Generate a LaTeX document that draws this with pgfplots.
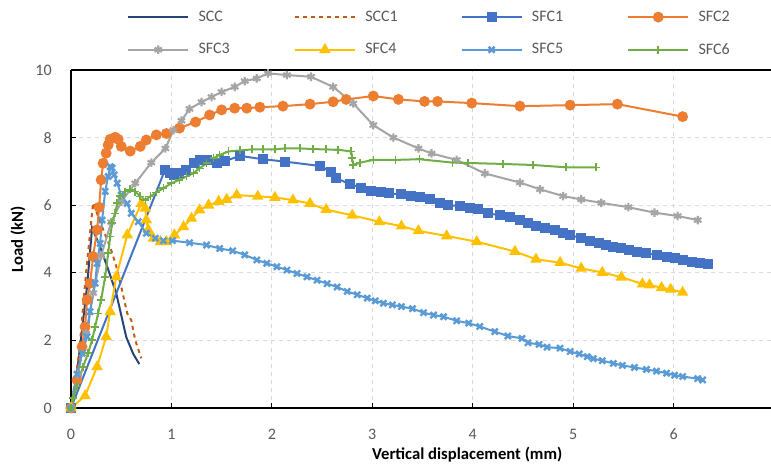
\documentclass[border=0pt]{standalone}
\usepackage{pgfplots}
\pgfplotsset{compat=1.18}
\usepackage{fontspec}
\setmainfont{Carlito}
\usetikzlibrary{calc}
\definecolor{cSCC}{HTML}{264478}
\definecolor{cSCC1}{HTML}{C55A11}
\definecolor{cSFC1}{HTML}{4472C4}
\definecolor{cSFC2}{HTML}{ED7D31}
\definecolor{cSFC3}{HTML}{A5A5A5}
\definecolor{cSFC4}{HTML}{FFC000}
\definecolor{cSFC5}{HTML}{5B9BD5}
\definecolor{cSFC6}{HTML}{70AD47}
\definecolor{tickgray}{HTML}{595959}
\definecolor{gridgray}{HTML}{D9D9D9}

\newcommand{\legtext}[1]{\makebox[74.5pt][l]{\hspace*{5pt}#1}}

\begin{document}
\begin{tikzpicture}
\begin{axis}[
    name=ax,
    scale only axis,
    width=525pt, height=253.5pt,
    xmin=0, xmax=6.97, ymin=0, ymax=10,
    xtick={0,1,...,6}, ytick={0,2,...,10},
    axis x line=box, axis y line*=left,
    xtick pos=bottom, ytick pos=left,
    tick align=inside, major tick length=3.5pt,
    tick style={black, line width=0.75pt},
    axis line style={black, line width=0.9pt},
    grid=major,
    major grid style={gridgray, dashed, line width=0.75pt},
    /pgf/number format/assume math mode=true,
    ticklabel style={font=\fontsize{12}{14}\selectfont, text=tickgray},
    xticklabel style={anchor=center, yshift=-19.5pt},
    yticklabel style={anchor=east, xshift=-11pt},
    xlabel={\textbf{Vertical displacement (mm)}},
    ylabel={\textbf{Load (kN)}},
    every axis x label/.style={at={(axis description cs:0.566,0)}, yshift=-35.25pt, anchor=center, font=\fontsize{12.5}{14}\selectfont},
    every axis y label/.style={at={(axis description cs:0,0.5)}, xshift=-39.75pt, rotate=90, anchor=center, font=\fontsize{12.5}{14}\selectfont},
    legend columns=4,
    legend style={at={(axis description cs:0.08,1)}, anchor=north west, yshift=46.5pt,
        draw=none, fill=none, font=\fontsize{12}{14}\selectfont, text=tickgray,
        row sep=11pt, inner sep=0pt},
    legend cell align=left,
    legend image code/.code={\draw[mark repeat=2, mark phase=2, #1] plot coordinates {(0pt,0pt) (22.5pt,0pt) (45pt,0pt)};},
    every axis plot/.append style={line width=1.5pt},
]

% SCC
\addplot[cSCC] coordinates {
(0,0) (0.06,1.04) (0.16,3.6) (0.21,5.33) (0.29,4.77) (0.37,4.1) (0.45,3.4) (0.55,2.1) (0.62,1.6) (0.68,1.3)
};
\addlegendentry{\legtext{SCC}}

% SCC1
\addplot[cSCC1, dashed] coordinates {
(0,0) (0.08,1.6) (0.15,4.0) (0.22,6.07) (0.27,5.67) (0.33,5.2) (0.39,4.77) (0.45,4.2) (0.50,3.59) (0.56,2.8) (0.60,2.6) (0.64,2.0) (0.70,1.47)
};
\addlegendentry{\legtext{SCC1}}

% SFC1
\addplot[cSFC1, mark=square*, mark size=3pt, mark options={solid, fill=cSFC1}] coordinates {
(0,0) (0.935,7.04) (0.985,6.94) (1.03,6.89) (1.08,6.94) (1.15,7.04) (1.22,7.24) (1.28,7.34) (1.35,7.34)
(1.45,7.26) (1.53,7.30) (1.68,7.46) (1.91,7.36) (2.13,7.29) (2.48,7.16) (2.59,6.99) (2.64,6.80)
(2.78,6.62) (2.89,6.52) (2.99,6.42) (3.09,6.38) (3.17,6.35) (3.29,6.32) (3.39,6.27) (3.47,6.23)
(3.57,6.17) (3.67,6.07) (3.75,6.00) (3.87,5.98) (3.97,5.92) (4.05,5.88) (4.15,5.76) (4.27,5.70)
(4.37,5.66) (4.47,5.56) (4.55,5.47) (4.63,5.39) (4.72,5.33) (4.82,5.27) (4.90,5.18) (4.97,5.12)
(5.08,5.02) (5.17,4.95) (5.26,4.87) (5.33,4.82) (5.40,4.77) (5.48,4.72) (5.56,4.67) (5.64,4.62)
(5.73,4.58) (5.83,4.53) (5.93,4.48) (6.01,4.43) (6.09,4.38) (6.18,4.33) (6.26,4.29) (6.34,4.25)
};
\addlegendentry{\legtext{SFC1}}

% SFC2
\addplot[cSFC2, mark=*, mark size=3.3pt, mark options={solid, fill=cSFC2}] coordinates {
(0,0) (0.06,0.83) (0.11,1.81) (0.14,2.4) (0.16,3.2) (0.19,3.69) (0.22,4.48) (0.26,5.27) (0.28,5.94)
(0.30,6.75) (0.32,7.24) (0.35,7.54) (0.37,7.78) (0.39,7.95) (0.44,8.01) (0.47,7.95) (0.50,7.74)
(0.59,7.60) (0.69,7.74) (0.75,7.93) (0.85,8.08) (0.95,8.12) (1.08,8.28) (1.24,8.46) (1.38,8.67)
(1.50,8.82) (1.63,8.87) (1.75,8.87) (1.88,8.90) (2.11,8.93) (2.38,8.99) (2.61,9.06) (2.74,9.13)
(3.01,9.23) (3.26,9.13) (3.52,9.07) (3.65,9.07) (3.99,9.02) (4.47,8.93) (4.97,8.96) (5.44,8.99) (6.09,8.62)
};
\addlegendentry{\legtext{SFC2}}

% SFC3
\addplot[cSFC3, mark=asterisk, mark size=3.2pt, mark options={solid, line width=1.6pt}] coordinates {
(0,0) (0.07,1.0) (0.15,2.2) (0.22,3.4) (0.30,4.5) (0.40,5.5) (0.50,6.1) (0.64,6.65) (0.80,7.26)
(0.94,7.68) (1.02,8.22) (1.10,8.50) (1.18,8.85) (1.30,9.05) (1.40,9.20) (1.50,9.35) (1.63,9.50)
(1.73,9.67) (1.85,9.75) (1.96,9.90) (2.15,9.85) (2.39,9.80) (2.61,9.50) (2.81,9.01) (3.01,8.37)
(3.21,8.00) (3.46,7.68) (3.59,7.53) (3.84,7.34) (4.12,6.94) (4.47,6.67) (4.67,6.47) (4.90,6.27)
(5.08,6.17) (5.28,6.07) (5.55,5.94) (5.81,5.78) (6.04,5.68) (6.24,5.56)
};
\addlegendentry{\legtext{SFC3}}

% SFC4
\addplot[cSFC4, mark=triangle*, mark size=3.5pt, mark options={solid, fill=cSFC4}] coordinates {
(0,0) (0.14,0.36) (0.26,1.22) (0.35,2.11) (0.39,2.85) (0.45,3.88) (0.56,5.12) (0.70,6.05) (0.74,5.91)
(0.75,5.56) (0.77,5.27) (0.82,5.02) (0.89,4.92) (0.95,4.92) (1.03,5.12) (1.12,5.36) (1.20,5.61)
(1.28,5.86) (1.37,6.00) (1.47,6.11) (1.55,6.17) (1.65,6.30) (1.86,6.26) (2.03,6.23) (2.21,6.15)
(2.38,6.05) (2.54,5.87) (2.80,5.70) (3.07,5.51) (3.29,5.38) (3.46,5.24) (3.74,5.09) (4.04,4.92)
(4.42,4.63) (4.63,4.40) (4.87,4.30) (5.08,4.13) (5.29,4.01) (5.48,3.87) (5.69,3.67) (5.76,3.64)
(5.88,3.56) (5.97,3.51) (6.09,3.42)
};
\addlegendentry{\legtext{SFC4}}

% SFC5
\addplot[cSFC5, mark=x, mark size=3.2pt, mark options={solid, line width=1.8pt}] coordinates {
(0,0) (0.06,1.0) (0.11,1.62) (0.16,2.11) (0.19,2.85) (0.24,3.69) (0.26,4.28) (0.29,4.87) (0.31,5.56)
(0.34,6.41) (0.37,6.85) (0.39,7.14) (0.41,7.10) (0.43,6.90) (0.46,6.65) (0.50,6.30) (0.56,6.05)
(0.60,5.76) (0.67,5.51) (0.75,5.17) (0.84,5.02) (0.92,4.95) (1.01,4.95) (1.18,4.89) (1.35,4.82)
(1.48,4.72) (1.61,4.65) (1.73,4.53) (1.85,4.38) (1.95,4.28) (2.05,4.18) (2.15,4.08) (2.25,3.98)
(2.35,3.88) (2.45,3.78) (2.55,3.68) (2.65,3.58) (2.75,3.45) (2.85,3.35) (2.95,3.25) (3.03,3.17)
(3.11,3.10) (3.20,3.05) (3.29,3.00) (3.40,2.94) (3.51,2.82) (3.61,2.75) (3.71,2.70) (3.84,2.58)
(3.96,2.51) (4.07,2.41) (4.22,2.26) (4.35,2.13) (4.49,2.06) (4.55,1.93) (4.66,1.88) (4.74,1.80)
(4.87,1.77) (4.97,1.67) (5.06,1.60) (5.14,1.52) (5.20,1.46) (5.29,1.40) (5.40,1.32) (5.49,1.26)
(5.61,1.20) (5.73,1.14) (5.83,1.09) (5.93,1.03) (6.01,0.97) (6.09,0.93) (6.24,0.87) (6.29,0.83)
};
\addlegendentry{\legtext{SFC5}}

% SFC6
\addplot[cSFC6, mark=+, mark size=3pt, mark options={solid, line width=1.2pt}] coordinates {
(0,0) (0.02,0.29) (0.06,0.64) (0.12,1.22) (0.17,1.62) (0.21,2.01) (0.24,2.40) (0.27,2.80) (0.30,3.20)
(0.34,3.88) (0.37,4.58) (0.39,5.07) (0.41,5.47) (0.44,5.76) (0.46,6.06) (0.49,6.27) (0.54,6.40)
(0.59,6.47) (0.64,6.40) (0.69,6.26) (0.74,6.15) (0.79,6.26) (0.85,6.38) (0.92,6.50) (1.00,6.65)
(1.08,6.75) (1.15,6.85) (1.22,6.95) (1.28,7.09) (1.35,7.24) (1.42,7.39) (1.48,7.49) (1.57,7.59)
(1.68,7.62) (1.80,7.65) (1.91,7.65) (2.03,7.65) (2.13,7.68) (2.28,7.68) (2.41,7.66) (2.54,7.65)
(2.66,7.64) (2.79,7.59) (2.80,7.39) (2.81,7.19) (2.88,7.26) (3.01,7.34) (3.23,7.34) (3.47,7.36)
(3.80,7.26) (3.95,7.25) (4.30,7.22) (4.60,7.19) (4.93,7.12) (5.23,7.12)
};
\addlegendentry{\legtext{SFC6}}

\end{axis}
\pgfresetboundingbox
\path ($(ax.south west)+(-53.25pt,-43.5pt)$) rectangle ($(ax.north east)+(0pt,52.5pt)$);
\end{tikzpicture}
\end{document}
